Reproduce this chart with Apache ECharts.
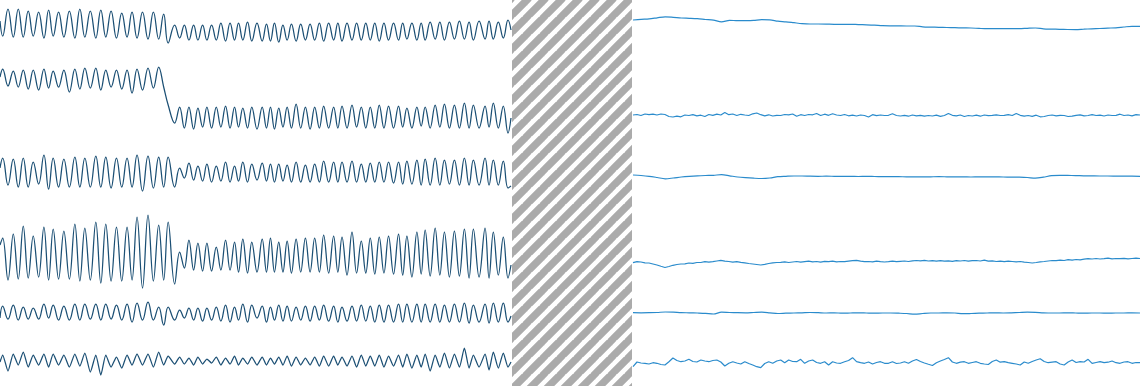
<!DOCTYPE html>
<html>
<head>
<meta charset="utf-8">
<script src="https://cdn.jsdelivr.net/npm/echarts@6/dist/echarts.min.js"></script>
<style>
html,body{margin:0;padding:0;background:#fff;}
#chart{width:1140px;height:386px;}
</style>
</head>
<body>
<div id="chart"></div>
<script>
// ---------- DATA ----------
// Left panel: shared sample times (turning points), then one value list per channel
const leftTime = [0, 2.7,8, 13.3,18.3, 23.3,28.3, 33.3,38.7, 44,48.7, 53.3,58.7, 64,69.5, 75,80, 85,90.5, 96,101, 106,111.3, 116.7,122, 127.3,132.3, 137.3,142.8, 148.3,153.7, 159,164, 168.5,175, 180,184.7, 189.3,194, 198.3,203, 207.3,212, 216.7,221.3, 226,230.5, 235,239, 243.3,248, 252.3,257.5, 262.7,267, 271,275, 279.3,283.5, 287.7,292, 296.7,301.3, 306,310.7, 315.3,320, 324.3,329.3, 334.3,338.5, 342.7,347.7, 352.7,357.3, 362,366.5, 371,375.5, 380,384.7, 389.3,394.3, 399.3,403.5, 407.7,412.7, 417.7,422, 426,431, 436,440.7, 445.3,450.3, 455.3,460.3, 465.3,470, 474.3,480, 486,490, 494.3,499.3, 504.3,509, 512];

const leftTrace1 = [4,
 -11,16, -12,16, -12,14, -11,13, -13,15, -11,13, -12,14, -13,16, -12,14, -13,15, -12,14, -13,12, -12,13, -13,13, -14,13, -14,11,
 -18,0, -13,0, -15,0, -15,0, -15,0, -15,2, -16,2, -15,2, -15,3,
 -16,2, -16,1, -16,2, -17,0, -15,1, -16,1, -15,1, -15,2, -16,2, -15,2, -16,2, -15,2, -15,2, -15,2, -16,2, -15,2, -15,2, -14,2, -15,2, -15,3, -14,3, -15,3, -14,4, -14,3, -15,4, -14,4, -14,3, -13,5,
 -5];

const leftTrace2 = [20,
 28,11, 26,10, 27,8, 27,7, 28,9, 26,10, 27,5, 28,8, 29,9, 29,7, 27,10, 27,8, 27,4, 28,7, 29,9, 30,10,
 -8,-26, -10,-31, -10,-32, -11,-30, -10,-31, -10,-30, -9,-31, -10,-30, -11,-31,
 -10,-32,
 -10,-31, -10,-32, -11,-30, -10,-31, -7,-31, -10,-32, -10,-31, -9,-31, -10,-31, -9,-31, -8,-30, -10,-31, -10,-31, -8,-31, -9,-31, -9,-30, -11,-31, -10,-29, -10,-31, -8,-30, -7,-31, -8,-31, -6,-31, -8,-31, -9,-30, -6,-31, -9,-36,
 -21];

const leftTrace3 = [5,
 15,-12, 14,-14, 15,-14, 11,-11, 18,-16, 15,-14, 14,-14, 16,-14, 15,-14, 17,-14, 16,-15, 15,-14, 15,-14, 18,-18, 17,-15, 16,-14,
 16,-14,
 5,-5, 10,-7, 7,-8, 9,-9, 7,-8, 11,-9, 7,-8, 11,-9,
 9,-7,
 10,-8, 9,-9, 9,-8, 8,-9, 11,-9, 8,-9, 9,-9, 12,-9, 11,-9, 11,-9, 12,-9, 9,-9, 10,-9, 11,-9, 11,-10, 11,-11, 12,-11, 13,-12, 14,-12, 15,-12, 13,-11, 13,-12, 15,-12, 13,-12, 15,-12, 13,-12, 12,-15,
 -13];

const leftTrace4 = [10,
 17,-25, 21,-24, 29,-23, 19,-22, 28,-25, 26,-24, 24,-24, 31,-26, 27,-25, 33,-28, 31,-26, 28,-26, 28,-25, 38,-33, 40,-26, 30,-25,
 33,-29,
 3,-13, 15,-15, 12,-16, 12,-16, 8,-15, 15,-15, 13,-17, 16,-18,
 13,-17,
 16,-17, 17,-17, 13,-17, 14,-18, 16,-17, 17,-17, 17,-17, 20,-18, 19,-17, 18,-20, 23,-18, 14,-18, 17,-19, 18,-18, 19,-19, 21,-20, 19,-22, 23,-19, 25,-21, 27,-20, 23,-22, 24,-21, 26,-23, 26,-22, 27,-23, 23,-20, 18,-23,
 -10];

const leftTrace5 = [-5,
 7,-6, 8,-7, 6,-6, 5,-6, 9,-5, 8,-7, 7,-7, 9,-7, 9,-6, 9,-7, 9,-6, 8,-7, 9,-9, 10,-7, 11,-7, 6,-12,
 6,-7,
 3,-5, 5,-7, 5,-8, 5,-7, 6,-8, 8,-9, 6,-7, 9,-9,
 8,-5,
 7,-9, 6,-7, 8,-8, 7,-8, 6,-7, 7,-8, 7,-7, 8,-8, 7,-9, 6,-8, 7,-8, 8,-8, 7,-9, 8,-9, 8,-9, 9,-9, 9,-9, 9,-9, 9,-9, 9,-9, 8,-9, 9,-9, 10,-10, 8,-9, 9,-10, 10,-9, 10,-9,
 -3];

const leftTrace6 = [0,
 7,-9, 8,-3, 10,-5, 7,-3, 8,-5, 8,-3, 7,-5, 8,-4, 9,-10, 7,-13, 7,-5, 5,-6, 7,-3, 8,-3, 8,-5, 10,-3,
 6,-2,
 5,-2, 4,-3, 5,-2, 3,-1, 5,-3, 4,-2, 6,-3, 4,-2,
 5,-3,
 5,-3, 4,-2, 5,-3, 6,-4, 5,-3, 4,-3, 5,-4, 6,-4, 6,-3, 5,-4, 6,-5, 7,-4, 6,-4, 7,-5, 6,-4, 7,-5, 8,-6, 7,-5, 8,-9, 7,-5, 9,-6, 8,-5, 14,-6, 7,-5, 8,-8, 10,-6, 9,-5,
 0];

// Right panel: evenly sampled values per channel
const rightTrace1 = [4,4.7,5.2,6.2,7.2,6.7,6,5.7,5.3,4.5,3.8,2.2,3.7,3.3,3.4,3.7,4.3,4.2,2.8,2.2,1.3,0.4,0,0,-0.1,-0.3,-0.3,-0.3,-0.6,-0.8,-1.1,-1.6,
 -1.8,-1.9,-2,-2,-2.8,-3.1,-3.3,-3.5,-3.7,-3.9,-4,-4.4,-4.7,-4.7,-4.7,-4.7,-4.7,-4.3,-4,-4.8,-5.1,-5.3,-5.5,-5.6,-5.2,-4.8,-4.5,-4.1,-3.8,-3,-2.3,-2.3];

const rightTrace2 = [0,0.5,-0.5,1,0.3,0.8,0,1,0.5,-1.5,-2,-1.2,-1.8,0,-0.5,0.3,-0.8,-0.2,-1.5,0.5,-0.3,0.8,0,2.5,0.3,1,-0.5,0.7,0,-0.5,1.2,2,
 0.3,-0.8,0.2,-1,-0.3,-0.5,0.5,0.2,1,-1.2,0.3,-0.5,0.5,0.2,1.5,-0.5,0.8,-0.3,1.2,0,-0.5,0.5,-0.8,-0.2,-1,0,-0.5,-2,0.3,-0.7,0,-0.5,
 -0.3,1.2,-0.5,-1,-0.3,-1.2,0,-0.8,-0.3,-1.2,-0.5,-1,-0.2,-1.3,-0.5,1.5,-0.3,-0.8,0,-1.5,-0.5,-1,-0.2,-1.2,0,-0.7,-0.3,0.2,-0.5,-0.3,0.3,-0.5,
 1.5,-0.3,-1.2,-0.5,-1.3,-0.2,-1.8,-1.5,-0.5,0,-0.8,-0.3,-0.5,-1.5,-1.2,-0.3,0.2,-0.8,-0.5,0.3,-0.5,-0.2,-1,0,-0.5,-0.3,0.8,-0.5,0,-0.8,0.3,0];

const rightTrace3 = [1,0.5,-0.3,-1.5,-2.8,-2,-1,-0.3,0.2,0.5,0.7,1.3,0.2,-1,-1.7,-2.2,-2.5,-2,-0.7,-0.3,0,0,
 -0.2,-0.3,-0.2,-0.3,-0.4,-0.3,-0.5,-0.4,-0.5,-0.6,-0.7,
 -0.7,-0.8,-0.8,-0.9,-0.8,-0.7,-0.8,-0.9,-0.9,-1,-0.8,-0.8,-0.9,-1,-1.1,-1.2,-1.5,
 -2.2,-1.2,0.3,0.7,0.6,0.4,0.2,0.1,0,0,-0.1,-0.2,-0.2,-0.3];

const rightTrace4 = [-0.7,0.3,0,-0.8,-1,-2,-3,-4.3,-5.5,-4.5,-3.3,-2.5,-2,-1.8,-1,-1.3,-0.5,-0.5,0.3,-0.2,0.3,1,1.7,0.8,0.5,-0.2,0.3,-0.3,-0.8,-1.5,-2,-2.5,
 -3,-2.3,-1.5,-0.8,-0.5,-0.3,0.2,-0.5,0,0.5,-0.2,0.3,0.8,0.2,0.5,-0.2,0.7,0.3,0.8,0.2,0.5,0.3,0.8,1.3,1.7,0.8,0.3,0.5,0.2,0.8,0.3,0,
 0.3,0.8,0.3,0.7,1,0.5,1.2,1.5,1.2,1.7,1,1.3,0.8,1.3,0.8,1.2,0.7,1.3,1,1.5,0.8,1.3,1.5,1,1.8,0.8,1.2,0.5,0.8,0.3,0.8,0.5,
 0.2,0.5,-0.2,-0.5,-1,-0.5,0.2,0.5,1,1.5,1.3,1.8,1.5,2.3,1.8,2.5,2.2,2.8,3.3,3,3.5,3,3.3,3.8,3.2,3.5,3.3,3.7,3.2,3.5,3.8,3.5];

const rightTrace5 = [0.3,0.2,0.3,0.5,1,0.8,0.3,0.2,0,-0.3,-1,0.8,0.5,0.3,0.2,0.5,0.8,0.2,-0.5,-0.2,0,0.2,0.5,0.3,0,0.2,-0.2,0,0.2,0,-0.2,0,
 0,-0.2,-0.5,-1.2,-0.5,0,0,0.2,0,-0.7,-0.5,-0.2,0,0.2,0,0.2,0.5,0.8,0.6,0.2,0,0,0.2,0,-0.2,0,0,-0.2,0,0,0.2,0];

const rightTrace6 = [-3.7,1,0,-0.3,-1,0.3,-0.3,-1.5,-2,1.3,5,2.5,1.3,2,3.7,1.5,1,3,2,1.3,2.5,3,1,-3,-0.3,1.3,0,-1,1.3,-0.5,-2,-3.7,
 -4.7,-0.5,1.3,-0.3,2,3,0.3,3,1.5,1.3,3.7,-0.3,2,3,0.5,-0.3,1.3,-2,1.3,0,-0.3,1.3,2.5,5.3,1.3,0.3,-0.3,1,-1,0.5,1.3,-0.3,
 -0.3,1.3,-0.5,0,1.3,-0.3,2,3.5,1.5,0,-1.3,-2.5,0.3,2,3.5,5.3,1,-0.3,0.8,1.3,-0.3,0.5,1.3,-0.3,-1,-1.5,1.5,3,0.8,1.3,0.3,-0.3,
 -1,-2,1,-0.3,1.5,3,4.3,1.5,0.3,0.8,1.3,-1,-2,1,3,0.5,1.3,1,3.7,-0.3,0.5,1.3,0.3,0.8,2,0.3,-0.3,1,1.3,-0.3,0.5,0.3];

// ---------- LAYOUT ----------
const W = 1140, H = 386;
const leftTraces = [leftTrace1, leftTrace2, leftTrace3, leftTrace4, leftTrace5, leftTrace6];
const rightTraces = [rightTrace1, rightTrace2, rightTrace3, rightTrace4, rightTrace5, rightTrace6];
// channel baseline (px from top) and half-height (px) of each band
const leftBands  = [[25,25],[97,40],[173,40],[255,45],[313,30],[362,24]];
const rightBands = [[24,24],[115,30],[176,30],[262,30],[313,30],[363,23]];
const leftSmooth  = [0.45, 0.4, 0.45, 0.4, 0.45, 0.2];
const rightSmooth = [0.3, false, 0.3, false, 0.3, false];
const LEFT_X0 = 0, LEFT_W = 511, RIGHT_X0 = 633, RIGHT_W = 507;
const leftColor = '#1b4f74', rightColor = '#2a8bcc';

const grid = [], xAxis = [], yAxis = [], series = [];
leftTraces.forEach((tr, i) => {
  if (tr.length !== leftTime.length) console.warn('left trace', i+1, tr.length, leftTime.length);
  const [c, h] = leftBands[i];
  grid.push({left: LEFT_X0, width: LEFT_W, top: c - h, height: 2*h});
  xAxis.push({type: 'value', gridIndex: grid.length-1, min: 0, max: 512, show: false});
  yAxis.push({type: 'value', gridIndex: grid.length-1, min: -h, max: h, show: false});
  series.push({
    type: 'line', xAxisIndex: grid.length-1, yAxisIndex: grid.length-1,
    data: leftTime.map((t, k) => [t, tr[k]]),
    showSymbol: false, smooth: leftSmooth[i], clip: false, silent: true,
    lineStyle: {color: leftColor, width: 1.25}
  });
});
rightTraces.forEach((tr, i) => {
  const [c, h] = rightBands[i];
  grid.push({left: RIGHT_X0, width: RIGHT_W, top: c - h, height: 2*h});
  xAxis.push({type: 'category', gridIndex: grid.length-1, boundaryGap: false,
              data: tr.map((_, k) => k), show: false});
  yAxis.push({type: 'value', gridIndex: grid.length-1, min: -h, max: h, show: false});
  series.push({
    type: 'line', xAxisIndex: grid.length-1, yAxisIndex: grid.length-1,
    data: tr, showSymbol: false, smooth: rightSmooth[i], clip: false, silent: true,
    lineStyle: {color: rightColor, width: 1.2}
  });
});

// hatch pattern for the gap between panels
const pc = document.createElement('canvas');
pc.width = 17; pc.height = 17;
const ctx = pc.getContext('2d');
ctx.strokeStyle = '#ababab';
ctx.lineWidth = 7.4;
[-17, 0, 17].forEach(o => { ctx.beginPath(); ctx.moveTo(o - 2, 19); ctx.lineTo(o + 19, -2); ctx.stroke(); });

const chart = echarts.init(document.getElementById('chart'), null, {renderer: 'canvas', width: W, height: H});
chart.setOption({
  animation: false,
  backgroundColor: '#ffffff',
  grid, xAxis, yAxis, series,
  graphic: [{
    type: 'rect', silent: true, z: 10,
    shape: {x: 512, y: 0, width: 120, height: H},
    style: {fill: {image: pc, repeat: 'repeat'}}
  }]
});
</script>
</body>
</html>
